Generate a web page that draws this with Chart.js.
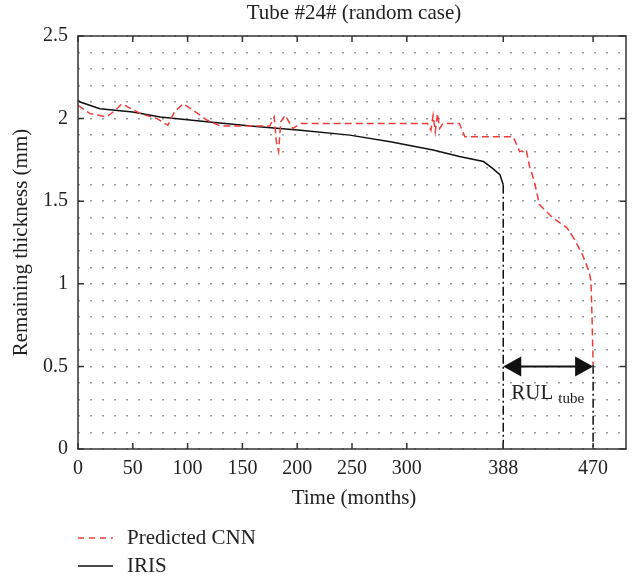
<!DOCTYPE html>
<html>
<head>
<meta charset="utf-8">
<script src="https://cdn.jsdelivr.net/npm/chart.js@4"></script>
<style>
body{margin:0;background:#fff;}
canvas{display:block;}
</style>
</head>
<body>
<canvas id="chart" width="632" height="579"></canvas>
<script>
// DATA

const xTicks = [0, 50, 100, 150, 200, 250, 300, 388, 470];
const yTicks = [0, 0.5, 1, 1.5, 2, 2.5];

const irisMonths = [0, 2, 20, 50, 75, 120, 165, 203, 248, 285, 324, 348, 370, 378, 385, 388];
const irisValues = [2.11, 2.10, 2.06, 2.04, 2.01, 1.98, 1.95, 1.93, 1.90, 1.86, 1.81, 1.77, 1.74, 1.70, 1.66, 1.60];

const cnnMonths = [0, 11, 26, 34, 40, 57, 72, 82, 88, 96, 105, 118, 130, 175, 179, 181, 183, 185, 189, 196, 203, 319, 322, 324, 326, 328, 330, 333, 348, 353, 397, 403, 409, 412, 414, 417, 421, 433, 446, 452, 460, 466, 468, 469, 470];
const cnnValues = [2.08, 2.03, 2.01, 2.05, 2.09, 2.03, 2.00, 1.96, 2.04, 2.09, 2.05, 1.99, 1.955, 1.955, 2.01, 1.86, 1.80, 1.98, 2.02, 1.94, 1.97, 1.97, 1.93, 2.02, 1.92, 2.03, 1.94, 1.97, 1.97, 1.89, 1.89, 1.80, 1.81, 1.71, 1.67, 1.60, 1.48, 1.40, 1.34, 1.28, 1.18, 1.08, 1.02, 0.80, 0.51];

const rulStart = 388;
const rulEnd = 470;
const rulLevel = 0.5;

const serif = "'Liberation Serif', 'DejaVu Serif', serif";

// ANNOTATIONS, FRAME, TITLE, LEGEND

const extras = {
id: "extras",
afterDatasetsDraw(chart){
const ctx = chart.ctx;
const xs = chart.scales.x;
const ys = chart.scales.y;
const a = chart.chartArea;

ctx.save();

// dash-dot drop lines
ctx.strokeStyle = "#111";
ctx.lineWidth = 1.5;
ctx.setLineDash([9, 3, 2, 3]);
ctx.beginPath();
ctx.moveTo(xs.getPixelForValue(rulStart), ys.getPixelForValue(irisValues[irisValues.length-1]));
ctx.lineTo(xs.getPixelForValue(rulStart), ys.getPixelForValue(0));
ctx.moveTo(xs.getPixelForValue(rulEnd), ys.getPixelForValue(cnnValues[cnnValues.length-1]));
ctx.lineTo(xs.getPixelForValue(rulEnd), ys.getPixelForValue(0));
ctx.stroke();
ctx.setLineDash([]);

// double arrow
const x1 = xs.getPixelForValue(rulStart);
const x2 = xs.getPixelForValue(rulEnd);
const yy = ys.getPixelForValue(rulLevel);
ctx.fillStyle = "#111";
ctx.lineWidth = 2;
ctx.beginPath();
ctx.moveTo(x1 + 16, yy);
ctx.lineTo(x2 - 16, yy);
ctx.stroke();
ctx.beginPath();
ctx.moveTo(x1, yy);
ctx.lineTo(x1 + 18, yy - 10);
ctx.lineTo(x1 + 18, yy + 10);
ctx.closePath();
ctx.fill();
ctx.beginPath();
ctx.moveTo(x2, yy);
ctx.lineTo(x2 - 18, yy - 10);
ctx.lineTo(x2 - 18, yy + 10);
ctx.closePath();
ctx.fill();

// RUL tube label
ctx.fillStyle = "#222";
ctx.textBaseline = "alphabetic";
ctx.textAlign = "left";
ctx.font = "21px " + serif;
ctx.fillText("RUL", x1 + 8, yy + 33);
const w = ctx.measureText("RUL").width;
ctx.font = "15px " + serif;
ctx.fillText("tube", x1 + 8 + w + 5, yy + 37);

// frame
ctx.strokeStyle = "#333";
ctx.lineWidth = 1.5;
ctx.strokeRect(a.left, a.top, a.right - a.left, a.bottom - a.top);

// inward ticks
ctx.beginPath();
xTicks.forEach(v=>{
const px = xs.getPixelForValue(v);
ctx.moveTo(px, a.bottom); ctx.lineTo(px, a.bottom - 6);
ctx.moveTo(px, a.top); ctx.lineTo(px, a.top + 6);
});
yTicks.forEach(v=>{
const py = ys.getPixelForValue(v);
ctx.moveTo(a.left, py); ctx.lineTo(a.left + 6, py);
ctx.moveTo(a.right, py); ctx.lineTo(a.right - 6, py);
});
ctx.stroke();

ctx.restore();
},
afterDraw(chart){
const ctx = chart.ctx;
const a = chart.chartArea;
const cx = (a.left + a.right) / 2;

ctx.save();
ctx.fillStyle = "#222";
ctx.textBaseline = "middle";
ctx.textAlign = "center";

// title
ctx.font = "21px " + serif;
ctx.fillText("Tube #24# (random case)", cx + 2, 13);

// axis titles
ctx.font = "21px " + serif;
ctx.fillText("Time (months)", cx + 2, 498);
ctx.save();
ctx.translate(21, (a.top + a.bottom) / 2);
ctx.rotate(-Math.PI / 2);
ctx.fillText("Remaining thickness (mm)", 0, 0);
ctx.restore();

// legend
ctx.textAlign = "left";
ctx.font = "21px " + serif;
ctx.lineWidth = 1.5;
ctx.strokeStyle = "#f03c3c";
ctx.setLineDash([6, 5]);
ctx.beginPath();
ctx.moveTo(78, 538); ctx.lineTo(113, 538);
ctx.stroke();
ctx.setLineDash([]);
ctx.strokeStyle = "#111";
ctx.beginPath();
ctx.moveTo(78, 566); ctx.lineTo(113, 566);
ctx.stroke();
ctx.fillText("Predicted CNN", 127, 538);
ctx.fillText("IRIS", 127, 566);

ctx.restore();
}
};

// CHART

new Chart(document.getElementById("chart"),{
type:"line",
data:{
datasets:[{
label:"Predicted CNN",
data:cnnMonths.map((m,i)=>({x:m, y:cnnValues[i]})),
borderColor:"#f03c3c",
borderWidth:1.5,
borderDash:[7,4],
pointRadius:0,
tension:0,
fill:false
},{
label:"IRIS",
data:irisMonths.map((m,i)=>({x:m, y:irisValues[i]})),
borderColor:"#111",
borderWidth:1.5,
pointRadius:0,
tension:0,
fill:false
}]
},
options:{
responsive:false,
animation:false,
devicePixelRatio:1,
layout:{padding:{top:36, right:6, left:0, bottom:0}},
plugins:{legend:{display:false}, title:{display:false}, tooltip:{enabled:false}},
scales:{
x:{
type:"linear",
min:0,
max:500,
afterBuildTicks:(s)=>{ s.ticks = xTicks.map(v=>({value:v})); },
afterFit:(s)=>{ s.height = 130; },
grid:{display:false, drawTicks:false},
border:{display:false},
ticks:{
color:"#222",
padding:8,
maxRotation:0,
autoSkip:false,
font:{family:serif, size:20},
callback:(v)=>String(v)
}
},
y:{
min:0,
max:2.5,
afterFit:(s)=>{ s.width = 78; },
grid:{color:"#9a9a9a", lineWidth:1.5, drawTicks:false},
border:{display:false, dash:[2,10]},
ticks:{
stepSize:0.1,
color:"#222",
padding:10,
autoSkip:false,
font:{family:serif, size:20},
callback:(v)=>{
const r = Math.round(v*10)/10;
return yTicks.some(t=>Math.abs(t-r)<1e-6) ? String(r) : "";
}
}
}
}
},
plugins:[extras]
});
</script>
</body>
</html>
